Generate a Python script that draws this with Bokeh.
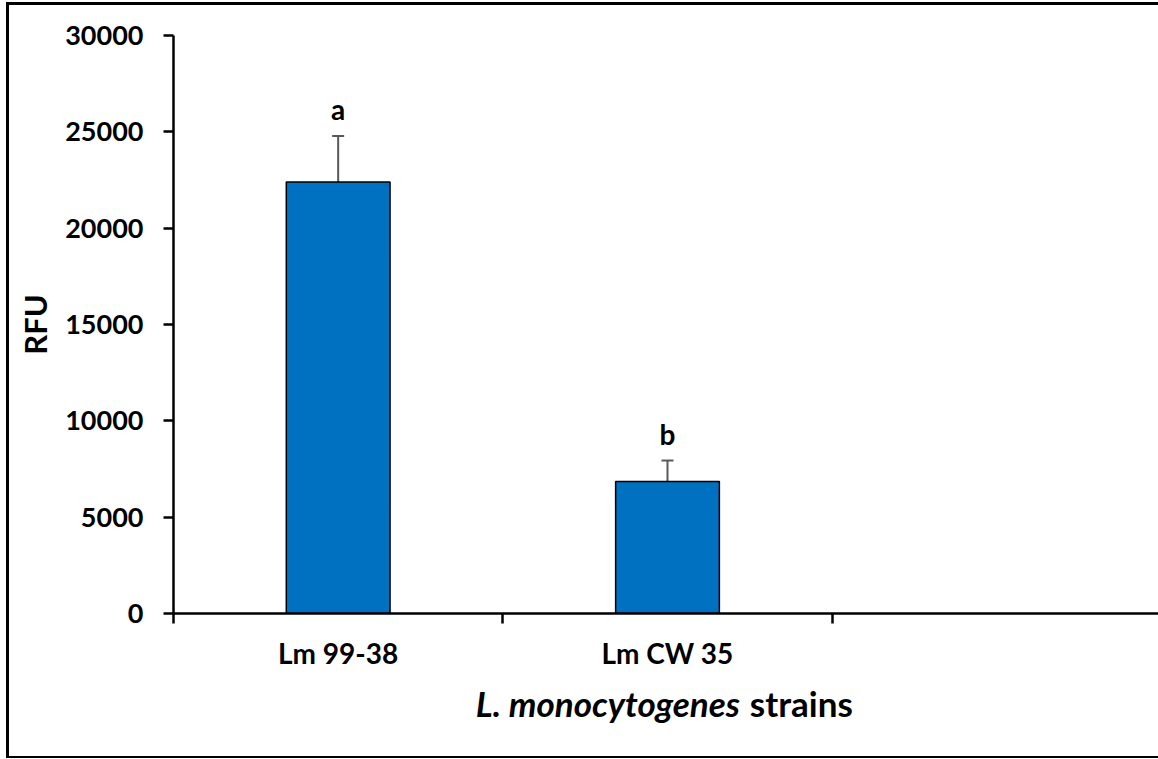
from bokeh.plotting import figure
from bokeh.layouts import column
from bokeh.models import ColumnDataSource, Range1d, FixedTicker, Whisker, TeeHead
from bokeh.core.properties import value
from bokeh.embed import file_html
from bokeh.resources import INLINE

# Fluorescence (RFU) per strain, with standard deviation and significance letters
strains = ["Lm 99-38", "Lm CW 35"]
rfu = [22400, 6850]
rfu_sd = [2380, 1090]
letters = ["a", "b"]
y_ticks = [0, 5000, 10000, 15000, 20000, 25000, 30000]
n_slots = 3  # the category axis leaves one empty slot on the right
x_title_parts = ["L. monocytogenes", "strains"]

FONT = "Lato"
BAR_BLUE = "#0070C0"
ERR_GREY = "#595959"

x_pos = [i + 0.5 for i in range(len(strains))]
upper = [v + e for v, e in zip(rfu, rfu_sd)]
src = ColumnDataSource(dict(x=x_pos, top=rfu, upper=upper, letter=letters))

x_range = Range1d(0, n_slots)

p = figure(
    width=1152, height=674,
    x_range=x_range, y_range=Range1d(0, 30000),
    output_backend="svg", toolbar_location=None,
    min_border_left=164, min_border_right=0,
    min_border_top=30, min_border_bottom=66,
)
p.styles = {
    "margin-left": "6px",
    "margin-top": "2px",
    "border-left": "3px solid black",
    "border-top": "3px solid black",
}
p.outline_line_color = None
p.xgrid.visible = False
p.ygrid.visible = False
p.background_fill_color = "white"
p.border_fill_color = "white"

# bars
p.vbar(x="x", top="top", width=0.315, source=src,
       fill_color=BAR_BLUE, line_color="black", line_width=1.5)

# upper error bars only
p.add_layout(Whisker(
    source=src, base="x", lower="top", upper="upper",
    line_color=ERR_GREY, line_width=2,
    upper_head=TeeHead(size=12, line_color=ERR_GREY, line_width=2),
    lower_head=None,
))

# significance letters above the error bars
p.text(x="x", y="upper", text="letter", source=src,
       text_align="center", text_baseline="alphabetic", y_offset=-27,
       text_font=value(FONT), text_font_style="bold",
       text_font_size="28px", text_color="black")

# x axis: labels at slot centres, tick marks at slot boundaries
xa = p.xaxis[0]
xa.ticker = FixedTicker(ticks=x_pos, minor_ticks=list(range(n_slots)))
xa.major_label_overrides = {xp: s for xp, s in zip(x_pos, strains)}
xa.major_tick_line_color = None
xa.major_tick_out = 0
xa.major_tick_in = 0
xa.minor_tick_out = 10
xa.minor_tick_in = 0
xa.minor_tick_line_color = "black"
xa.minor_tick_line_width = 2.5
xa.axis_line_color = "black"
xa.axis_line_width = 2.5
xa.major_label_standoff = 12
xa.major_label_text_font = FONT
xa.major_label_text_font_style = "bold"
xa.major_label_text_font_size = "28px"
xa.major_label_text_color = "black"

# y axis
ya = p.yaxis[0]
ya.ticker = FixedTicker(ticks=y_ticks)
ya.major_tick_out = 10
ya.major_tick_in = 0
ya.major_tick_line_width = 2.5
ya.major_tick_line_color = "black"
ya.minor_tick_line_color = None
ya.axis_line_color = "black"
ya.axis_line_width = 2.5
ya.major_label_standoff = 20
ya.major_label_text_font = FONT
ya.major_label_text_font_style = "bold"
ya.major_label_text_font_size = "27px"
ya.major_label_text_color = "black"
ya.axis_label = "RFU"
ya.axis_label_standoff = 8
ya.axis_label_text_font = FONT
ya.axis_label_text_font_style = "bold"
ya.axis_label_text_font_size = "31px"
ya.axis_label_text_color = "black"

# strip under the chart carrying the x axis title
# (italic species name followed by upright "strains")
t = figure(
    width=1152, height=82,
    x_range=x_range, y_range=Range1d(0, 1),
    x_axis_type=None, y_axis_type=None,
    output_backend="svg", toolbar_location=None,
    min_border_left=164, min_border_right=0,
    min_border_top=0, min_border_bottom=0,
)
t.styles = {
    "margin-left": "6px",
    "border-left": "3px solid black",
    "border-bottom": "2px solid black",
}
t.outline_line_color = None
t.grid.visible = False
t.background_fill_color = "white"
t.border_fill_color = "white"

title_src = ColumnDataSource(dict(
    x=[1.720, 1.750], y=[0.675, 0.675], text=x_title_parts,
    align=["right", "left"], style=["bold italic", "bold"],
))
t.text(x="x", y="y", text="text", source=title_src,
       text_align="align", text_font_style="style",
       text_baseline="alphabetic", text_font=value(FONT),
       text_font_size="35px", text_color="black")

layout = column(p, t, spacing=0)
open("out.html", "w").write(file_html(layout, INLINE))
